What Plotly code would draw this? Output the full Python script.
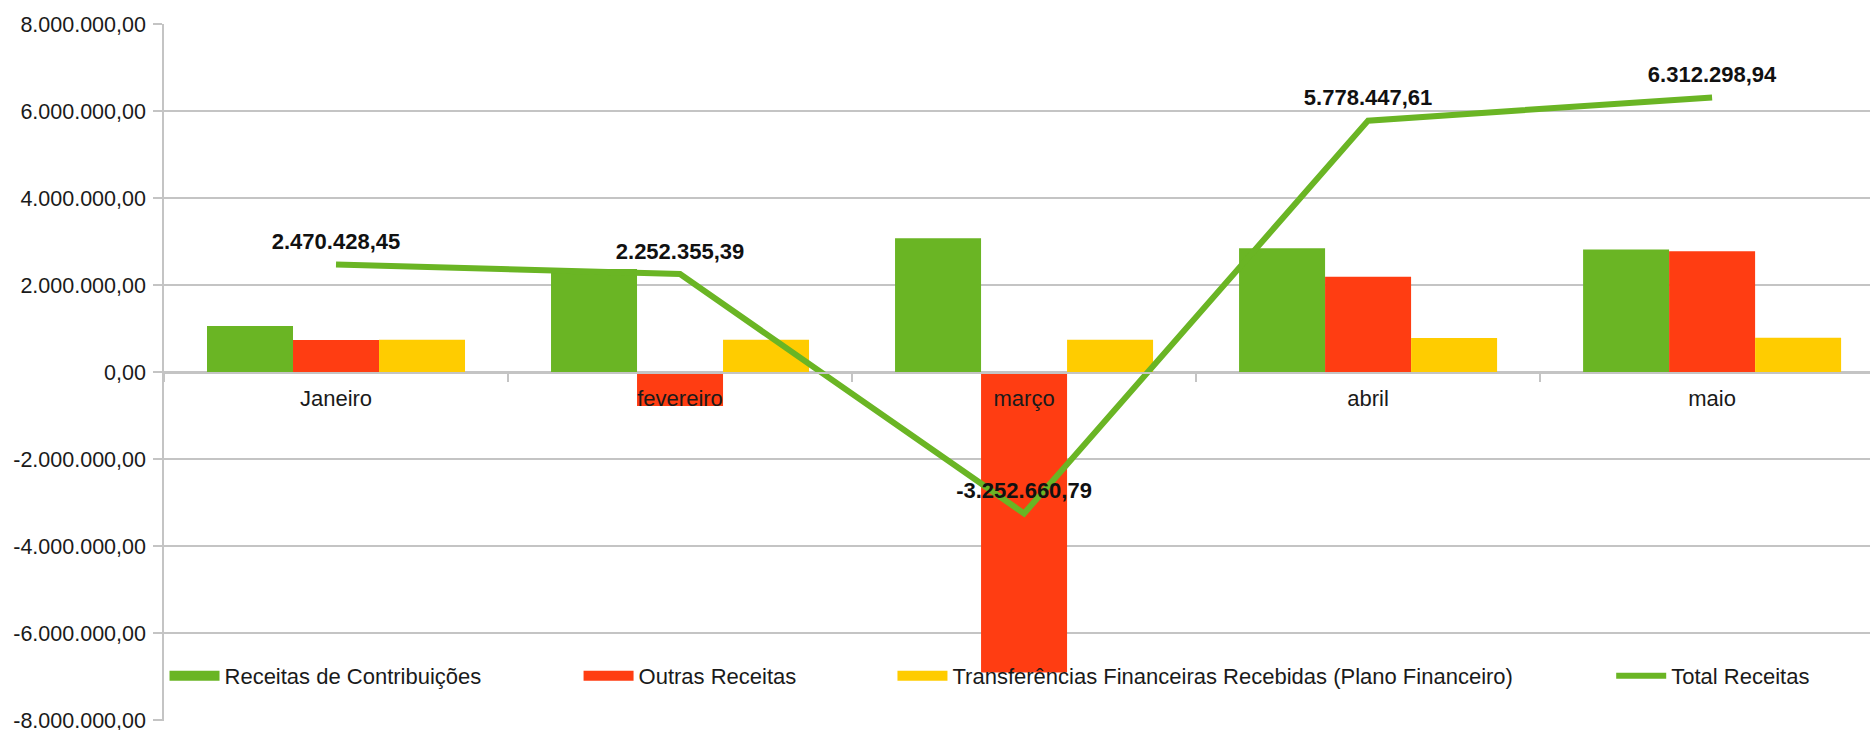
import plotly.graph_objects as go

meses = ["Janeiro", "fevereiro", "março", "abril", "maio"]
contribuicoes = [1060000, 2366000, 3075000, 2845000, 2816000]
outras = [737000, -780000, -6910000, 2187000, 2777000]
transferencias = [740000, 740000, 742000, 780000, 790000]
total = [2470428.45, 2252355.39, -3252660.79, 5778447.61, 6312298.94]
y_ticks = [-8000000, -6000000, -4000000, -2000000, 0, 2000000, 4000000, 6000000, 8000000]

VERDE = "#6ab524"
VERMELHO = "#ff3d12"
AMARELO = "#ffcc00"
CINZA = "#c4c4c4"
FONTE = "Liberation Sans"


def br(v):
    # formato brasileiro: 1.234.567,89 (com hífen no negativo)
    return f"{v:,.2f}".replace(",", "X").replace(".", ",").replace("X", ".")


series = [
    ("Receitas de Contribuições", contribuicoes, VERDE, "legend"),
    ("Outras Receitas", outras, VERMELHO, "legend2"),
    ("Transferências Financeiras Recebidas (Plano Financeiro)", transferencias, AMARELO, "legend3"),
]

fig = go.Figure()
for nome, valores, cor, leg in series:
    fig.add_trace(go.Bar(
        x=meses, y=valores, name=nome, marker_color=cor,
        marker_line_width=0, legendgroup=nome, showlegend=False,
        hovertext=[br(v) for v in valores], hoverinfo="text",
    ))
    # entrada de legenda com o retângulo largo do original
    fig.add_trace(go.Scatter(
        x=[None], y=[None], name=nome, mode="lines",
        line=dict(color=cor, width=14), legendgroup=nome, legend=leg,
    ))

fig.add_trace(go.Scatter(
    x=meses, y=total, name="Total Receitas", mode="lines+markers+text",
    line=dict(color=VERDE, width=6),
    marker=dict(size=14, color="rgba(0,0,0,0)"),
    text=[br(v) for v in total], textposition="top center",
    textfont=dict(family=FONTE, size=22, color="#111111", weight="bold"),
    hoverinfo="text", hovertext=[br(v) for v in total],
    legend="legend4",
))

legenda = dict(
    orientation="h", yanchor="middle", y=0.0647, xanchor="left",
    bgcolor="rgba(0,0,0,0)", itemwidth=50,
    font=dict(family=FONTE, size=22, color="#1a1a1a"),
)
fig.update_layout(
    width=1870, height=730,
    margin=dict(l=164, r=0, t=24, b=9, pad=0, autoexpand=False),
    paper_bgcolor="white", plot_bgcolor="white",
    barmode="group", bargap=0.25, bargroupgap=0,
    font=dict(family=FONTE, size=22, color="#1a1a1a"),
    legend=dict(legenda, x=0.0003),
    legend2=dict(legenda, x=0.243),
    legend3=dict(legenda, x=0.427),
    legend4=dict(legenda, x=0.8483),
)
fig.update_xaxes(
    type="category", range=[-0.5, 4.459], anchor="free", position=0.5,
    showline=True, linecolor=CINZA, linewidth=1.5,
    ticks="outside", tickson="boundaries", ticklen=9, tickcolor=CINZA, tickwidth=1.5,
    showgrid=False, tickfont=dict(size=22), automargin=False, ticklabelstandoff=6,
)
fig.update_yaxes(
    range=[-8.023e6, 8e6], tickvals=y_ticks, ticktext=[br(v) for v in y_ticks],
    showgrid=True, gridcolor=CINZA, gridwidth=1.5, zeroline=False,
    showline=True, linecolor=CINZA, linewidth=1.5,
    ticks="outside", ticklen=9, tickcolor=CINZA, tickwidth=1.5,
    tickfont=dict(size=21.5), automargin=False, ticklabeloverflow="allow",
    ticklabelstandoff=3,
)

# sem a margem padrão do <body>, para o gráfico ocupar a janela inteira
fig.write_html(
    "out.html",
    config={"displayModeBar": False},
    post_script="document.body.style.margin = '0';",
)
